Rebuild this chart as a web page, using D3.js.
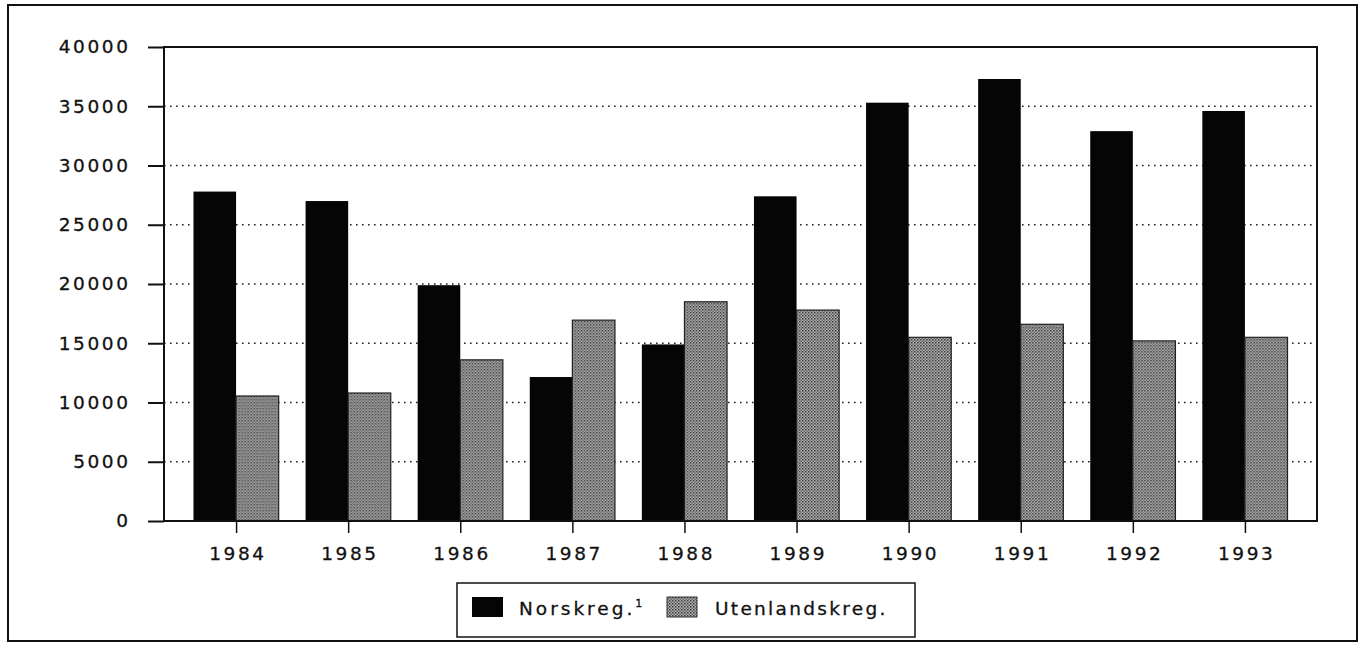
<!DOCTYPE html>
<html>
<head>
<meta charset="utf-8">
<script src="https://cdn.jsdelivr.net/npm/d3@7"></script>
<style>
  body { margin: 0; background: #fff; }
  text { font-family: "DejaVu Sans", "Liberation Sans", Arial, sans-serif; fill: #111; stroke: #111; stroke-width: 0.3px; }
</style>
</head>
<body>
<div id="chart"></div>
<script>
// chart data
var years = ["1984", "1985", "1986", "1987", "1988", "1989", "1990", "1991", "1992", "1993"];
var norskreg = [27800, 27000, 19900, 12150, 14900, 27400, 35300, 37300, 32900, 34600];
var utenlandskreg = [10550, 10800, 13600, 16950, 18500, 17800, 15500, 16600, 15200, 15500];
var yTicks = [0, 5000, 10000, 15000, 20000, 25000, 30000, 35000, 40000];
var seriesNames = ["Norskreg.", "Utenlandskreg."];

var width = 1361, height = 645;
var plotLeft = 164, plotRight = 1317, plotTop = 47, plotBottom = 521;

var svg = d3.select("#chart").append("svg")
  .attr("width", width)
  .attr("height", height);

// dotted grey fill for the second series
var defs = svg.append("defs");
var pat = defs.append("pattern")
  .attr("id", "dots")
  .attr("width", 3)
  .attr("height", 3)
  .attr("patternUnits", "userSpaceOnUse");
pat.append("rect").attr("width", 3).attr("height", 3).attr("fill", "#b0b0b0");
pat.append("rect").attr("width", 1.5).attr("height", 1.5).attr("fill", "#3a3a3a");
pat.append("rect").attr("x", 1.5).attr("y", 1.5).attr("width", 1.5).attr("height", 1.5).attr("fill", "#666");

// outer frame
svg.append("rect")
  .attr("x", 8).attr("y", 5)
  .attr("width", 1349).attr("height", 636)
  .attr("fill", "none")
  .attr("stroke", "#111")
  .attr("stroke-width", 2);

var y = d3.scaleLinear().domain([0, 40000]).range([plotBottom, plotTop]);

var x0 = d3.scaleBand()
  .domain(years)
  .range([plotLeft, plotRight])
  .paddingInner(0.24)
  .paddingOuter(0.263);

var x1 = d3.scaleBand()
  .domain(seriesNames)
  .range([0, x0.bandwidth()]);

// dotted gridlines
svg.append("g")
  .selectAll("line")
  .data(yTicks.filter(function(d) { return d > 0 && d < 40000; }))
  .enter().append("line")
  .attr("x1", plotLeft).attr("x2", plotRight)
  .attr("y1", function(d) { return y(d); })
  .attr("y2", function(d) { return y(d); })
  .attr("stroke", "#222")
  .attr("stroke-width", 1.6)
  .attr("stroke-dasharray", "1.6,4.4");

// bars
var groups = svg.append("g")
  .selectAll("g")
  .data(years)
  .enter().append("g")
  .attr("transform", function(d) { return "translate(" + x0(d) + ",0)"; });

groups.append("rect")
  .attr("x", x1(seriesNames[0]))
  .attr("y", function(d, i) { return y(norskreg[i]); })
  .attr("width", x1.bandwidth())
  .attr("height", function(d, i) { return plotBottom - y(norskreg[i]); })
  .attr("fill", "#050505");

groups.append("rect")
  .attr("x", x1(seriesNames[1]))
  .attr("y", function(d, i) { return y(utenlandskreg[i]); })
  .attr("width", x1.bandwidth())
  .attr("height", function(d, i) { return plotBottom - y(utenlandskreg[i]); })
  .attr("fill", "url(#dots)")
  .attr("stroke", "#222")
  .attr("stroke-width", 1.2);

// plot frame
svg.append("rect")
  .attr("x", plotLeft).attr("y", plotTop)
  .attr("width", plotRight - plotLeft).attr("height", plotBottom - plotTop)
  .attr("fill", "none")
  .attr("stroke", "#111")
  .attr("stroke-width", 2);

// y axis
var yAxis = svg.append("g")
  .attr("transform", "translate(" + plotLeft + ",0)")
  .call(d3.axisLeft(y).tickValues(yTicks).tickSize(16).tickPadding(20).tickFormat(d3.format("d")));
yAxis.select(".domain").remove();
yAxis.selectAll("line").attr("stroke", "#111").attr("stroke-width", 2);
yAxis.selectAll("text")
  .style("font-size", "18.5px")
  .style("letter-spacing", "2.6px")
  .attr("dx", 2.6)
  .attr("fill", "#111");

// x axis
var xCenter = d3.scalePoint()
  .domain(years)
  .range([x0(years[0]) + x0.bandwidth() / 2, x0(years[years.length - 1]) + x0.bandwidth() / 2]);
var xAxis = svg.append("g")
  .attr("transform", "translate(0," + plotBottom + ")")
  .call(d3.axisBottom(xCenter).tickSize(12).tickPadding(14));
xAxis.select(".domain").remove();
xAxis.selectAll("line").attr("stroke", "#111").attr("stroke-width", 1.5);
xAxis.selectAll("text")
  .style("font-size", "18.5px")
  .style("letter-spacing", "2.6px")
  .attr("dx", 1.3)
  .attr("fill", "#111");

// legend
var legend = svg.append("g");
legend.append("rect")
  .attr("x", 457).attr("y", 583)
  .attr("width", 458).attr("height", 54)
  .attr("fill", "#fff")
  .attr("stroke", "#111")
  .attr("stroke-width", 1.5);

legend.append("rect")
  .attr("x", 472).attr("y", 597)
  .attr("width", 31).attr("height", 20)
  .attr("fill", "#050505");

var t1 = legend.append("text")
  .attr("x", 519).attr("y", 615)
  .style("font-size", "18.5px")
  .style("letter-spacing", "3px")
  .text(seriesNames[0]);
t1.append("tspan")
  .attr("dy", -8)
  .style("font-size", "11px")
  .style("letter-spacing", "0px")
  .text("1");

legend.append("rect")
  .attr("x", 667).attr("y", 597)
  .attr("width", 30).attr("height", 20)
  .attr("fill", "url(#dots)")
  .attr("stroke", "#333")
  .attr("stroke-width", 1);

legend.append("text")
  .attr("x", 715).attr("y", 615)
  .style("font-size", "18.5px")
  .style("letter-spacing", "2.3px")
  .text(seriesNames[1]);
</script>
</body>
</html>
